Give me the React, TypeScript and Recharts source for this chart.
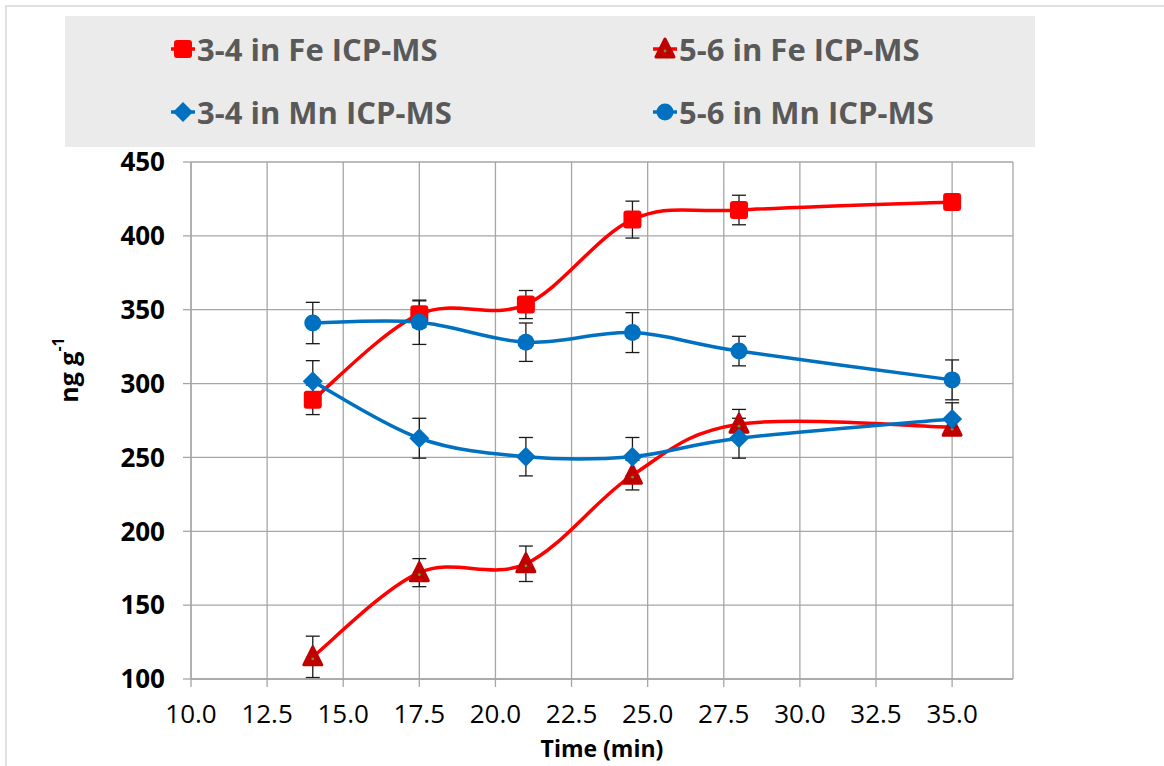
import React from "react";
import {
  LineChart,
  Line,
  XAxis,
  YAxis,
  CartesianGrid,
  ErrorBar,
  Label,
} from "recharts";

// sampling times (min)
const times = [14, 17.5, 21, 24.5, 28, 35];

// ng g-1
const fe34 = [289, 347, 353.5, 411, 417.5, 423];
const fe34Err = [10, 9, 9.5, 12.5, 10, 3];
const fe56 = [115, 172, 178, 238, 272.5, 270.5];
const fe56Err = [14, 9.5, 12, 10, 10, 5];
const mn34 = [301.5, 263, 250.5, 250.5, 263, 276];
const mn34Err = [14, 13.5, 13, 13, 13.5, 11];
const mn56 = [341, 341.5, 328, 334.5, 322, 302.5];
const mn56Err = [14, 15, 13, 13.5, 10, 13.5];

const xTicks = [10, 12.5, 15, 17.5, 20, 22.5, 25, 27.5, 30, 32.5, 35];
const yTicks = [100, 150, 200, 250, 300, 350, 400, 450];

const seriesNames = [
  "3-4 in Fe ICP-MS",
  "5-6 in Fe ICP-MS",
  "3-4 in Mn ICP-MS",
  "5-6 in Mn ICP-MS",
];

const data = times.map((t, i) => ({
  time: t,
  fe34: fe34[i],
  fe34Err: fe34Err[i],
  fe56: fe56[i],
  fe56Err: fe56Err[i],
  mn34: mn34[i],
  mn34Err: mn34Err[i],
  mn56: mn56[i],
  mn56Err: mn56Err[i],
}));

const RED = "#FF0000";
const DARK_RED = "#C00000";
const BLUE = "#0070C0";

// Excel-like smoothed line (catmull-rom style bezier)
const excelSmooth = (context: any) => {
  let pts: number[][] = [];
  return {
    areaStart() {},
    areaEnd() {},
    lineStart() {
      pts = [];
    },
    point(x: number, y: number) {
      pts.push([+x, +y]);
    },
    lineEnd() {
      const n = pts.length;
      if (!n) return;
      context.moveTo(pts[0][0], pts[0][1]);
      for (let i = 0; i < n - 1; i++) {
        const p0 = pts[i - 1] || pts[i];
        const p1 = pts[i];
        const p2 = pts[i + 1];
        const p3 = pts[i + 2] || p2;
        context.bezierCurveTo(
          p1[0] + (p2[0] - p0[0]) / 6,
          p1[1] + (p2[1] - p0[1]) / 6,
          p2[0] - (p3[0] - p1[0]) / 6,
          p2[1] - (p3[1] - p1[1]) / 6,
          p2[0],
          p2[1]
        );
      }
    },
  };
};

type Shape = "square" | "triangle" | "diamond" | "circle";

const Marker = ({ shape, cx, cy }: { shape: Shape; cx: number; cy: number }) => {
  if (shape === "square")
    return <rect x={cx - 9} y={cy - 9} width={18} height={18} rx={3} fill={RED} />;
  if (shape === "triangle")
    return (
      <g>
        <polygon
          points={`${cx},${cy - 10} ${cx + 9},${cy + 8} ${cx - 9},${cy + 8}`}
          fill={DARK_RED}
          stroke={DARK_RED}
          strokeWidth={3}
          strokeLinejoin="round"
        />
        <circle cx={cx} cy={cy + 2} r={1.4} fill="#6B9A2B" />
      </g>
    );
  if (shape === "diamond")
    return (
      <polygon
        points={`${cx},${cy - 10} ${cx + 10},${cy} ${cx},${cy + 10} ${cx - 10},${cy}`}
        fill={BLUE}
      />
    );
  return <circle cx={cx} cy={cy} r={8.5} fill={BLUE} />;
};

const dotFor = (shape: Shape) => (props: any) => {
  const { cx, cy, index } = props;
  if (cx == null || cy == null) return <g key={index} />;
  return (
    <g key={`${shape}-${index}`}>
      <Marker shape={shape} cx={cx} cy={cy} />
    </g>
  );
};

const YTitle = (props: any) => {
  const vb = props.viewBox || { x: 131, y: 162, width: 60, height: 517 };
  const cx = vb.x - 63;
  const cy = vb.y + 208;
  return (
    <text
      x={cx}
      y={cy}
      transform={`rotate(-90, ${cx}, ${cy})`}
      textAnchor="middle"
      dominantBaseline="central"
      fontFamily="'Open Sans', sans-serif"
      fontWeight={700}
      fontSize={25}
      fill="#000"
    >
      ng g
      <tspan dy={-10} fontSize={16}>
        -1
      </tspan>
    </text>
  );
};

const XTitle = (props: any) => {
  const vb = props.viewBox || { x: 191, y: 679, width: 822, height: 30 };
  return (
    <text
      x={vb.x + vb.width / 2}
      y={vb.y + 78}
      textAnchor="middle"
      fontFamily="'Open Sans', sans-serif"
      fontWeight={700}
      fontSize={23}
      fill="#000"
    >
      Time (min)
    </text>
  );
};

const legendItems: { name: string; shape: Shape; line: string; left: number; top: number }[] = [
  { name: seriesNames[0], shape: "square", line: RED, left: 118, top: 33 },
  { name: seriesNames[1], shape: "triangle", line: RED, left: 600, top: 33 },
  { name: seriesNames[2], shape: "diamond", line: BLUE, left: 118, top: 96 },
  { name: seriesNames[3], shape: "circle", line: BLUE, left: 600, top: 96 },
];

const ChartLegend = () => (
  <div
    style={{
      position: "absolute",
      left: 65,
      top: 16,
      width: 970,
      height: 131,
      background: "#EBEBEB",
    }}
  >
    {legendItems.map((it) => (
      <div
        key={it.name}
        style={{
          position: "absolute",
          left: it.left - 15,
          top: it.top - 20,
          height: 40,
          display: "flex",
          alignItems: "center",
          whiteSpace: "nowrap",
        }}
      >
        <svg width={30} height={40} style={{ display: "block" }}>
          <line x1={3} y1={20} x2={27} y2={20} stroke={it.line} strokeWidth={3.5} />
          <Marker shape={it.shape} cx={15} cy={20} />
        </svg>
        <span
          style={{
            marginLeft: -1,
            fontFamily: "'Open Sans', sans-serif",
            fontWeight: 700,
            fontSize: 31,
            color: "#595959",
            lineHeight: "40px",
          }}
        >
          {it.name}
        </span>
      </div>
    ))}
  </div>
);

export default function App() {
  const errProps = { width: 7, strokeWidth: 1.3, stroke: "#1a1a1a", direction: "y" as const };
  return (
    <div
      style={{
        position: "absolute",
        left: 0,
        top: 0,
        width: 1164,
        height: 766,
        background: "#fff",
        overflow: "hidden",
      }}
    >
      <div
        style={{
          position: "absolute",
          left: 5,
          top: 5,
          width: 1200,
          height: 800,
          borderTop: "2px solid #E1E1E1",
          borderLeft: "2px solid #E1E1E1",
        }}
      />
      <LineChart
        width={1164}
        height={766}
        data={data}
        margin={{ top: 162, right: 151, left: 131, bottom: 57 }}
        style={{ position: "absolute", left: 0, top: 0 }}
      >
        <CartesianGrid stroke="#A6A6A6" strokeWidth={1.3} />
        <XAxis
          dataKey="time"
          type="number"
          domain={[10, 37]}
          ticks={xTicks}
          allowDataOverflow
          tickFormatter={(v: number) => v.toFixed(1)}
          height={30}
          tickSize={8}
          tickMargin={18}
          axisLine={{ stroke: "#A6A6A6", strokeWidth: 1.3 }}
          tickLine={{ stroke: "#A6A6A6", strokeWidth: 1.3 }}
          tick={{ fill: "#000", fontSize: 26, fontFamily: "'Open Sans', sans-serif" }}
          interval={0}
        >
          <Label content={XTitle} />
        </XAxis>
        <YAxis
          type="number"
          domain={[100, 450]}
          ticks={yTicks}
          width={60}
          tickSize={8}
          tickMargin={18}
          axisLine={{ stroke: "#A6A6A6", strokeWidth: 1.3 }}
          tickLine={{ stroke: "#A6A6A6", strokeWidth: 1.3 }}
          tick={{
            fill: "#000",
            fontSize: 26,
            fontWeight: 700,
            fontFamily: "'Open Sans', sans-serif",
          }}
          interval={0}
        >
          <Label content={YTitle} />
        </YAxis>
        <Line
          dataKey="fe34"
          name={seriesNames[0]}
          type={excelSmooth as any}
          stroke={RED}
          strokeWidth={3.5}
          dot={dotFor("square")}
          activeDot={false}
          isAnimationActive={false}
        >
          <ErrorBar dataKey="fe34Err" {...errProps} />
        </Line>
        <Line
          dataKey="fe56"
          name={seriesNames[1]}
          type={excelSmooth as any}
          stroke={RED}
          strokeWidth={3.5}
          dot={dotFor("triangle")}
          activeDot={false}
          isAnimationActive={false}
        >
          <ErrorBar dataKey="fe56Err" {...errProps} />
        </Line>
        <Line
          dataKey="mn34"
          name={seriesNames[2]}
          type={excelSmooth as any}
          stroke={BLUE}
          strokeWidth={3.5}
          dot={dotFor("diamond")}
          activeDot={false}
          isAnimationActive={false}
        >
          <ErrorBar dataKey="mn34Err" {...errProps} />
        </Line>
        <Line
          dataKey="mn56"
          name={seriesNames[3]}
          type={excelSmooth as any}
          stroke={BLUE}
          strokeWidth={3.5}
          dot={dotFor("circle")}
          activeDot={false}
          isAnimationActive={false}
        >
          <ErrorBar dataKey="mn56Err" {...errProps} />
        </Line>
      </LineChart>
      <ChartLegend />
    </div>
  );
}
